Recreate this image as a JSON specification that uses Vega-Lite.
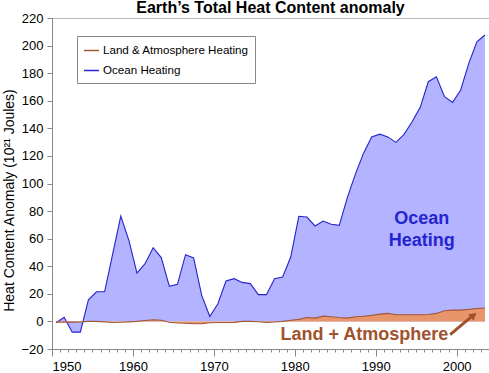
{
  "$schema": "https://vega.github.io/schema/vega-lite/v6.json",
  "autosize": {"type": "none"},
  "padding": {"left": 52, "top": 18, "right": 0, "bottom": 24},
  "width": 437,
  "height": 331,
  "title": {"text": "Earth’s Total Heat Content anomaly", "font": "Liberation Sans", "fontSize": 16, "fontWeight": "bold", "color": "#000", "frame": "group", "anchor": "middle", "baseline": "alphabetic", "offset": 0, "dy": 17},
  "datasets": {
    "ocean": [
      {"year": 1950.5, "heat": -1, "series": "Ocean Heating"},
      {"year": 1951.5, "heat": 3, "series": "Ocean Heating"},
      {"year": 1952.5, "heat": -7.8, "series": "Ocean Heating"},
      {"year": 1953.5, "heat": -7.8, "series": "Ocean Heating"},
      {"year": 1954.5, "heat": 15.7, "series": "Ocean Heating"},
      {"year": 1955.5, "heat": 21.5, "series": "Ocean Heating"},
      {"year": 1956.5, "heat": 21.5, "series": "Ocean Heating"},
      {"year": 1957.5, "heat": 49, "series": "Ocean Heating"},
      {"year": 1958.5, "heat": 76.3, "series": "Ocean Heating"},
      {"year": 1959.5, "heat": 58.8, "series": "Ocean Heating"},
      {"year": 1960.5, "heat": 35.1, "series": "Ocean Heating"},
      {"year": 1961.5, "heat": 41.9, "series": "Ocean Heating"},
      {"year": 1962.5, "heat": 53.5, "series": "Ocean Heating"},
      {"year": 1963.5, "heat": 46.3, "series": "Ocean Heating"},
      {"year": 1964.5, "heat": 25.4, "series": "Ocean Heating"},
      {"year": 1965.5, "heat": 26.9, "series": "Ocean Heating"},
      {"year": 1966.5, "heat": 48.4, "series": "Ocean Heating"},
      {"year": 1967.5, "heat": 46, "series": "Ocean Heating"},
      {"year": 1968.5, "heat": 18.9, "series": "Ocean Heating"},
      {"year": 1969.5, "heat": 3.6, "series": "Ocean Heating"},
      {"year": 1970.5, "heat": 12.8, "series": "Ocean Heating"},
      {"year": 1971.5, "heat": 29.3, "series": "Ocean Heating"},
      {"year": 1972.5, "heat": 31, "series": "Ocean Heating"},
      {"year": 1973.5, "heat": 28.3, "series": "Ocean Heating"},
      {"year": 1974.5, "heat": 27.4, "series": "Ocean Heating"},
      {"year": 1975.5, "heat": 19.4, "series": "Ocean Heating"},
      {"year": 1976.5, "heat": 19.4, "series": "Ocean Heating"},
      {"year": 1977.5, "heat": 31, "series": "Ocean Heating"},
      {"year": 1978.5, "heat": 32.2, "series": "Ocean Heating"},
      {"year": 1979.5, "heat": 46.7, "series": "Ocean Heating"},
      {"year": 1980.5, "heat": 76.2, "series": "Ocean Heating"},
      {"year": 1981.5, "heat": 75.7, "series": "Ocean Heating"},
      {"year": 1982.5, "heat": 69.2, "series": "Ocean Heating"},
      {"year": 1983.5, "heat": 72.8, "series": "Ocean Heating"},
      {"year": 1984.5, "heat": 70.4, "series": "Ocean Heating"},
      {"year": 1985.5, "heat": 69.7, "series": "Ocean Heating"},
      {"year": 1986.5, "heat": 90, "series": "Ocean Heating"},
      {"year": 1987.5, "heat": 107, "series": "Ocean Heating"},
      {"year": 1988.5, "heat": 122, "series": "Ocean Heating"},
      {"year": 1989.5, "heat": 133.8, "series": "Ocean Heating"},
      {"year": 1990.5, "heat": 135.8, "series": "Ocean Heating"},
      {"year": 1991.5, "heat": 133.8, "series": "Ocean Heating"},
      {"year": 1992.5, "heat": 129.8, "series": "Ocean Heating"},
      {"year": 1993.5, "heat": 135.6, "series": "Ocean Heating"},
      {"year": 1994.5, "heat": 144.8, "series": "Ocean Heating"},
      {"year": 1995.5, "heat": 155.2, "series": "Ocean Heating"},
      {"year": 1996.5, "heat": 173.8, "series": "Ocean Heating"},
      {"year": 1997.5, "heat": 177.4, "series": "Ocean Heating"},
      {"year": 1998.5, "heat": 162.9, "series": "Ocean Heating"},
      {"year": 1999.5, "heat": 158.8, "series": "Ocean Heating"},
      {"year": 2000.5, "heat": 167.8, "series": "Ocean Heating"},
      {"year": 2001.5, "heat": 187.1, "series": "Ocean Heating"},
      {"year": 2002.5, "heat": 202.8, "series": "Ocean Heating"},
      {"year": 2003.5, "heat": 207.7, "series": "Ocean Heating"}
    ],
    "land": [
      {"year": 1950.5, "heat": -0.5, "series": "Land & Atmosphere Heating"},
      {"year": 1951.5, "heat": -0.5, "series": "Land & Atmosphere Heating"},
      {"year": 1952.5, "heat": -0.5, "series": "Land & Atmosphere Heating"},
      {"year": 1953.5, "heat": -0.4, "series": "Land & Atmosphere Heating"},
      {"year": 1954.5, "heat": 0, "series": "Land & Atmosphere Heating"},
      {"year": 1955.5, "heat": 0, "series": "Land & Atmosphere Heating"},
      {"year": 1956.5, "heat": -0.3, "series": "Land & Atmosphere Heating"},
      {"year": 1957.5, "heat": -0.8, "series": "Land & Atmosphere Heating"},
      {"year": 1958.5, "heat": -0.6, "series": "Land & Atmosphere Heating"},
      {"year": 1959.5, "heat": -0.3, "series": "Land & Atmosphere Heating"},
      {"year": 1960.5, "heat": 0, "series": "Land & Atmosphere Heating"},
      {"year": 1961.5, "heat": 0.7, "series": "Land & Atmosphere Heating"},
      {"year": 1962.5, "heat": 1.2, "series": "Land & Atmosphere Heating"},
      {"year": 1963.5, "heat": 0.8, "series": "Land & Atmosphere Heating"},
      {"year": 1964.5, "heat": -0.6, "series": "Land & Atmosphere Heating"},
      {"year": 1965.5, "heat": -1.1, "series": "Land & Atmosphere Heating"},
      {"year": 1966.5, "heat": -1.3, "series": "Land & Atmosphere Heating"},
      {"year": 1967.5, "heat": -1.7, "series": "Land & Atmosphere Heating"},
      {"year": 1968.5, "heat": -1.6, "series": "Land & Atmosphere Heating"},
      {"year": 1969.5, "heat": -1.0, "series": "Land & Atmosphere Heating"},
      {"year": 1970.5, "heat": -0.8, "series": "Land & Atmosphere Heating"},
      {"year": 1971.5, "heat": -0.8, "series": "Land & Atmosphere Heating"},
      {"year": 1972.5, "heat": -0.7, "series": "Land & Atmosphere Heating"},
      {"year": 1973.5, "heat": 0, "series": "Land & Atmosphere Heating"},
      {"year": 1974.5, "heat": 0, "series": "Land & Atmosphere Heating"},
      {"year": 1975.5, "heat": -0.2, "series": "Land & Atmosphere Heating"},
      {"year": 1976.5, "heat": -0.7, "series": "Land & Atmosphere Heating"},
      {"year": 1977.5, "heat": -0.4, "series": "Land & Atmosphere Heating"},
      {"year": 1978.5, "heat": 0, "series": "Land & Atmosphere Heating"},
      {"year": 1979.5, "heat": 0.8, "series": "Land & Atmosphere Heating"},
      {"year": 1980.5, "heat": 1.5, "series": "Land & Atmosphere Heating"},
      {"year": 1981.5, "heat": 2.8, "series": "Land & Atmosphere Heating"},
      {"year": 1982.5, "heat": 2.4, "series": "Land & Atmosphere Heating"},
      {"year": 1983.5, "heat": 3.8, "series": "Land & Atmosphere Heating"},
      {"year": 1984.5, "heat": 3.4, "series": "Land & Atmosphere Heating"},
      {"year": 1985.5, "heat": 2.8, "series": "Land & Atmosphere Heating"},
      {"year": 1986.5, "heat": 2.4, "series": "Land & Atmosphere Heating"},
      {"year": 1987.5, "heat": 3.4, "series": "Land & Atmosphere Heating"},
      {"year": 1988.5, "heat": 3.8, "series": "Land & Atmosphere Heating"},
      {"year": 1989.5, "heat": 4.4, "series": "Land & Atmosphere Heating"},
      {"year": 1990.5, "heat": 5.3, "series": "Land & Atmosphere Heating"},
      {"year": 1991.5, "heat": 5.8, "series": "Land & Atmosphere Heating"},
      {"year": 1992.5, "heat": 4.8, "series": "Land & Atmosphere Heating"},
      {"year": 1993.5, "heat": 4.8, "series": "Land & Atmosphere Heating"},
      {"year": 1994.5, "heat": 4.8, "series": "Land & Atmosphere Heating"},
      {"year": 1995.5, "heat": 4.8, "series": "Land & Atmosphere Heating"},
      {"year": 1996.5, "heat": 5, "series": "Land & Atmosphere Heating"},
      {"year": 1997.5, "heat": 5.8, "series": "Land & Atmosphere Heating"},
      {"year": 1998.5, "heat": 7.7, "series": "Land & Atmosphere Heating"},
      {"year": 1999.5, "heat": 8.2, "series": "Land & Atmosphere Heating"},
      {"year": 2000.5, "heat": 8.2, "series": "Land & Atmosphere Heating"},
      {"year": 2001.5, "heat": 8.7, "series": "Land & Atmosphere Heating"},
      {"year": 2002.5, "heat": 9.4, "series": "Land & Atmosphere Heating"},
      {"year": 2003.5, "heat": 9.7, "series": "Land & Atmosphere Heating"}
    ]
  },
  "layer": [
    {
      "data": {"name": "ocean"},
      "mark": {"type": "area", "color": "#b3b3ff", "opacity": 1},
      "encoding": {
        "x": {"field": "year", "type": "quantitative", "scale": {"domain": [1950, 2004], "nice": false, "zero": false},
              "axis": {"orient": "bottom", "values": [1950, 1960, 1970, 1980, 1990, 2000], "format": "d", "tickSize": 7, "labelPadding": 4, "title": null, "domainColor": "#888", "tickColor": "#888"}},
        "y": {"field": "heat", "type": "quantitative", "scale": {"domain": [-20, 220], "nice": false},
              "axis": {"values": [-20, 0, 20, 40, 60, 80, 100, 120, 140, 160, 180, 200, 220], "tickCount": 13, "labelOverlap": false, "tickSize": 5, "labelPadding": 4,
                       "title": "Heat Content Anomaly (10²¹ Joules)", "titleFontSize": 14, "titleFontWeight": "normal", "titleColor": "#000",
                       "titleAngle": 270, "titleBaseline": "alphabetic", "titleAlign": "center", "titleX": -39, "titleY": 182}}
      }
    },
    {
      "data": {"name": "ocean"},
      "mark": {"type": "line", "strokeWidth": 1.1},
      "encoding": {
        "x": {"field": "year", "type": "quantitative", "axis": {"orient": "bottom", "values": [1950,1951,1952,1953,1954,1955,1956,1957,1958,1959,1960,1961,1962,1963,1964,1965,1966,1967,1968,1969,1970,1971,1972,1973,1974,1975,1976,1977,1978,1979,1980,1981,1982,1983,1984,1985,1986,1987,1988,1989,1990,1991,1992,1993,1994,1995,1996,1997,1998,1999,2000,2001,2002,2003], "labels": false, "tickSize": 3, "domain": false, "title": null, "tickColor": "#888"}},
        "y": {"field": "heat", "type": "quantitative"},
        "stroke": {"field": "series", "type": "nominal",
                   "scale": {"domain": ["Land & Atmosphere Heating", "Ocean Heating"], "range": ["#a0573a", "#2424cc"]},
                   "legend": {"orient": "none", "legendX": 25, "legendY": 18, "title": null, "symbolType": "stroke", "symbolSize": 225, "symbolStrokeWidth": 1.5,
                              "labelFontSize": 11.6, "labelFont": "Liberation Sans", "labelColor": "#000", "strokeColor": "#888", "fillColor": "#fff",
                              "padding": 6, "rowPadding": 5, "labelOffset": 3, "labelLimit": 400}}
      }
    },
    {
      "data": {"name": "land"},
      "mark": {"type": "area", "color": "#e8956b", "opacity": 1},
      "encoding": {
        "x": {"field": "year", "type": "quantitative", "axis": null},
        "y": {"field": "heat", "type": "quantitative"}
      }
    },
    {
      "data": {"name": "land"},
      "mark": {"type": "line", "strokeWidth": 1.1},
      "encoding": {
        "x": {"field": "year", "type": "quantitative", "axis": null},
        "y": {"field": "heat", "type": "quantitative"},
        "stroke": {"field": "series", "type": "nominal"}
      }
    },
    {
      "data": {"values": [{"label": "Ocean", "year": 1995.7, "heat": 74}, {"label": "Heating", "year": 1995.7, "heat": 58}]},
      "mark": {"type": "text", "font": "Liberation Sans", "fontSize": 18, "fontWeight": "bold", "color": "#2424d0", "baseline": "middle", "align": "center"},
      "encoding": {
        "x": {"field": "year", "type": "quantitative", "axis": null},
        "y": {"field": "heat", "type": "quantitative"},
        "text": {"field": "label"}
      }
    },
    {
      "data": {"values": [{"label": "Land + Atmosphere", "year": 1988.6, "heat": -10.2}]},
      "mark": {"type": "text", "font": "Liberation Sans", "fontSize": 18, "fontWeight": "bold", "color": "#a0522d", "baseline": "middle", "align": "center"},
      "encoding": {
        "x": {"field": "year", "type": "quantitative", "axis": null},
        "y": {"field": "heat", "type": "quantitative"},
        "text": {"field": "label"}
      }
    },
    {
      "data": {"values": [{"year": 1999.2, "heat": -9.6, "year2": 2001.8, "heat2": 3.3}]},
      "mark": {"type": "rule", "color": "#a0522d", "strokeWidth": 3},
      "encoding": {
        "x": {"field": "year", "type": "quantitative", "axis": null},
        "y": {"field": "heat", "type": "quantitative"},
        "x2": {"field": "year2"},
        "y2": {"field": "heat2"}
      }
    },
    {
      "data": {"values": [{"year": 2002.1, "heat": 4.5}]},
      "mark": {"type": "point", "shape": "triangle-up", "filled": true, "color": "#a0522d", "size": 70, "angle": 51, "opacity": 1},
      "encoding": {
        "x": {"field": "year", "type": "quantitative", "axis": null},
        "y": {"field": "heat", "type": "quantitative"}
      }
    }
  ],
  "resolve": {"axis": {"x": "independent"}},
  "config": {
    "font": "Liberation Sans",
    "view": {"stroke": "#b8b8b8"},
    "axis": {"grid": false, "domainColor": "#888", "tickColor": "#888", "labelColor": "#000", "labelFont": "Liberation Sans", "labelFontSize": 13, "titleFont": "Liberation Sans"},
    "axisY": {"labelOverlap": false}
  }
}
